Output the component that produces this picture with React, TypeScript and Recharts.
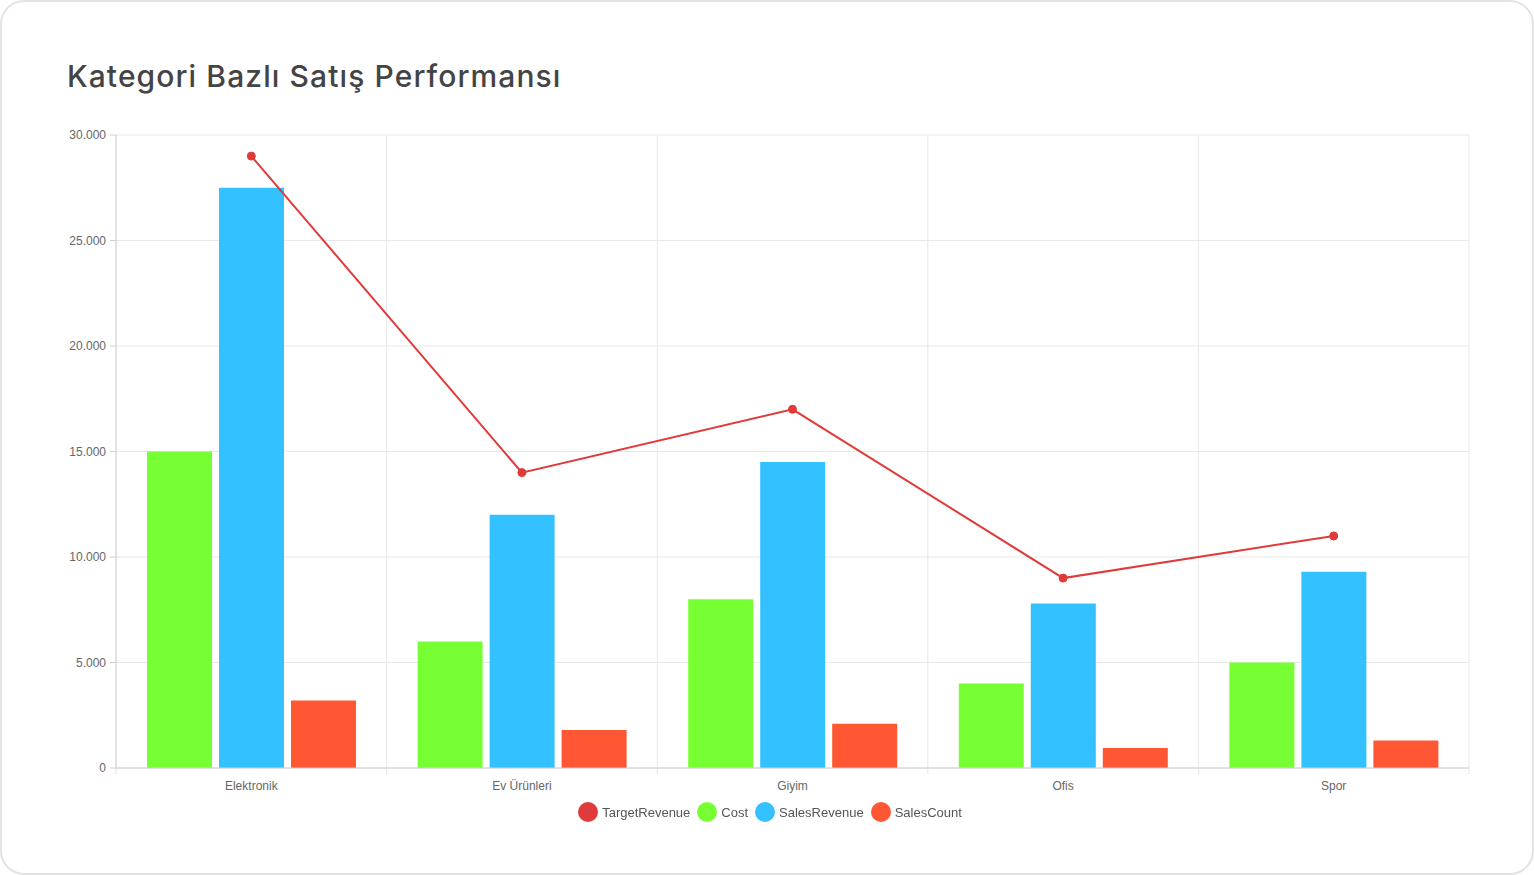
import { ComposedChart, Bar, Line, XAxis, YAxis, CartesianGrid, usePlotArea } from 'recharts'

const categories = ['Elektronik', 'Ev Ürünleri', 'Giyim', 'Ofis', 'Spor']
const targetRevenue = [29000, 14000, 17000, 9000, 11000]
const cost = [15000, 6000, 8000, 4000, 5000]
const salesRevenue = [27500, 12000, 14500, 7800, 9300]
const salesCount = [3200, 1800, 2100, 950, 1300]
const yTicks = [0, 5000, 10000, 15000, 20000, 25000, 30000]

const SERIES = [
    { key: 'TargetRevenue', color: '#e03a3a' },
    { key: 'Cost', color: '#77ff33' },
    { key: 'SalesRevenue', color: '#33c1ff' },
    { key: 'SalesCount', color: '#ff5733' },
]

const data = categories.map((name, i) => ({
    name,
    TargetRevenue: targetRevenue[i],
    Cost: cost[i],
    SalesRevenue: salesRevenue[i],
    SalesCount: salesCount[i],
}))

const fmt = (v: number) => String(v).replace(/\B(?=(\d{3})+(?!\d))/g, '.')

const tickFont = { fill: '#666', fontSize: 12, fontFamily: '"Liberation Sans", Arial, sans-serif' }

// chart.js style: small tick marks under the x axis at category boundaries
function BoundaryTicks() {
    const area = usePlotArea()
    if (!area) return null
    const step = area.width / categories.length
    return (
        <g>
            {Array.from({ length: categories.length + 1 }, (_, i) => {
                const x = area.x + i * step
                const y = area.y + area.height
                return <line key={i} x1={x} x2={x} y1={y} y2={y + 6} stroke="#e5e5e5" />
            })}
        </g>
    )
}

export default function App() {
    return (
        <div style={{ position: 'fixed', left: 0, top: 0, width: 1534, height: 875, background: '#fff' }}>
            <div
                style={{
                    position: 'absolute',
                    inset: 0,
                    border: '2px solid #e3e3e6',
                    borderRadius: 24,
                    boxSizing: 'border-box',
                }}
            />
            <div
                style={{
                    position: 'absolute',
                    left: 67,
                    top: 58,
                    fontFamily: 'Inter, "Open Sans", sans-serif',
                    fontWeight: 500,
                    fontSize: 30,
                    color: '#444',
                    letterSpacing: 1.1,
                }}
            >
                Kategori Bazlı Satış Performansı
            </div>
            <div style={{ position: 'absolute', left: 0, top: 0 }}>
                <ComposedChart
                    width={1534}
                    height={875}
                    data={data}
                    margin={{ top: 135, right: 65, bottom: 77, left: 56 }}
                    barGap={7}
                    barSize={65}
                >
                    <CartesianGrid
                        stroke="#e8e8e8"
                        verticalCoordinatesGenerator={({ offset }: any) =>
                            Array.from(
                                { length: categories.length + 1 },
                                (_, i) => offset.left + (i * offset.width) / categories.length
                            )
                        }
                    />
                    <XAxis
                        dataKey="name"
                        tickLine={false}
                        axisLine={{ stroke: '#d0d0d0' }}
                        tickMargin={7}
                        height={30}
                        tick={tickFont}
                    />
                    <YAxis
                        width={60}
                        domain={[0, 30000]}
                        ticks={yTicks}
                        tickFormatter={fmt}
                        tickLine={{ stroke: '#d0d0d0' }}
                        axisLine={{ stroke: '#d0d0d0' }}
                        tickMargin={4}
                        tick={tickFont}
                    />
                    <Bar dataKey="Cost" fill="#77ff33" isAnimationActive={false} />
                    <Bar dataKey="SalesRevenue" fill="#33c1ff" isAnimationActive={false} />
                    <Bar dataKey="SalesCount" fill="#ff5733" isAnimationActive={false} />
                    <Line
                        dataKey="TargetRevenue"
                        stroke="#e03a3a"
                        strokeWidth={2}
                        dot={{ r: 4, fill: '#e03a3a', stroke: '#e03a3a', strokeWidth: 1 }}
                        isAnimationActive={false}
                    />
                    <BoundaryTicks />
                </ComposedChart>
            </div>
            <div
                style={{
                    position: 'absolute',
                    left: 0,
                    width: 1540,
                    top: 802,
                    display: 'flex',
                    justifyContent: 'center',
                    gap: 7,
                    fontFamily: '"Liberation Sans", Arial, sans-serif',
                    fontSize: 13,
                    color: '#555',
                }}
            >
                {SERIES.map((s) => (
                    <div key={s.key} style={{ display: 'flex', alignItems: 'center', gap: 4 }}>
                        <span
                            style={{ width: 20, height: 20, borderRadius: '50%', background: s.color, display: 'inline-block' }}
                        />
                        <span>{s.key}</span>
                    </div>
                ))}
            </div>
        </div>
    )
}
